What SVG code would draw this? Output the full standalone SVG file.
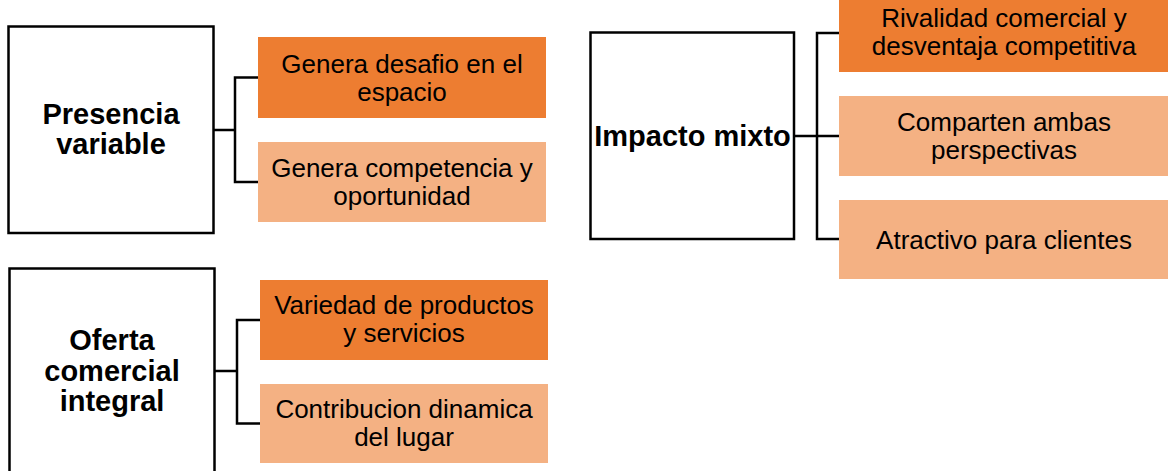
<svg xmlns="http://www.w3.org/2000/svg" width="1168" height="471" viewBox="0 0 1168 471">
<style>
.main{fill:#fff;stroke:#000;stroke-width:2.5}
.dark{fill:#ED7D31}
.light{fill:#F4B183}
.t{font-family:"Liberation Sans",Arial,sans-serif;font-size:26px;fill:#000;text-anchor:middle}
.b{font-family:"Liberation Sans",Arial,sans-serif;font-size:29px;font-weight:bold;fill:#000;text-anchor:middle}
.con{fill:none;stroke:#000;stroke-width:2.5}
</style>
<rect width="1168" height="471" fill="#fff"/>
<g id="connectors">
<path class="con" d="M214,130 H235 M258,77.5 H235 V182 H258"/>
<path class="con" d="M215,371 H237 M260,320 H237 V423.5 H260"/>
<path class="con" d="M794,136 H839 M839,33 H817 V239 H839"/>
</g>
<g id="n-presencia">
<rect class="main" x="8.5" y="26.5" width="205" height="206.5"/>
<text class="b" x="111" y="124">Presencia</text>
<text class="b" x="111" y="154">variable</text>
</g>
<g id="n-desafio">
<rect class="dark" x="258" y="37" width="288" height="81"/>
<text class="t" x="402" y="73">Genera desafio en el</text>
<text class="t" x="402" y="101">espacio</text>
</g>
<g id="n-competencia">
<rect class="light" x="258" y="142" width="288" height="80"/>
<text class="t" x="402" y="177">Genera competencia y</text>
<text class="t" x="402" y="205">oportunidad</text>
</g>
<g id="n-oferta">
<rect class="main" x="9.5" y="268.5" width="205" height="210"/>
<text class="b" x="112" y="350">Oferta</text>
<text class="b" x="112" y="380.5">comercial</text>
<text class="b" x="112" y="411">integral</text>
</g>
<g id="n-variedad">
<rect class="dark" x="260" y="280" width="288" height="80"/>
<text class="t" x="404" y="314">Variedad de productos</text>
<text class="t" x="404" y="342">y servicios</text>
</g>
<g id="n-contribucion">
<rect class="light" x="260" y="384" width="288" height="79"/>
<text class="t" x="404" y="418">Contribucion dinamica</text>
<text class="t" x="404" y="446">del lugar</text>
</g>
<g id="n-impacto">
<rect class="main" x="590.5" y="32.5" width="203.5" height="206.5"/>
<text class="b" x="692.5" y="146">Impacto mixto</text>
</g>
<g id="n-rivalidad">
<rect class="dark" x="839" y="-6" width="329" height="78"/>
<text class="t" x="1004" y="27">Rivalidad comercial y</text>
<text class="t" x="1004" y="54.5">desventaja competitiva</text>
</g>
<g id="n-comparten">
<rect class="light" x="839" y="96" width="329" height="80"/>
<text class="t" x="1004" y="131">Comparten ambas</text>
<text class="t" x="1004" y="159">perspectivas</text>
</g>
<g id="n-atractivo">
<rect class="light" x="839" y="200" width="329" height="79"/>
<text class="t" x="1004" y="249">Atractivo para clientes</text>
</g>
</svg>
